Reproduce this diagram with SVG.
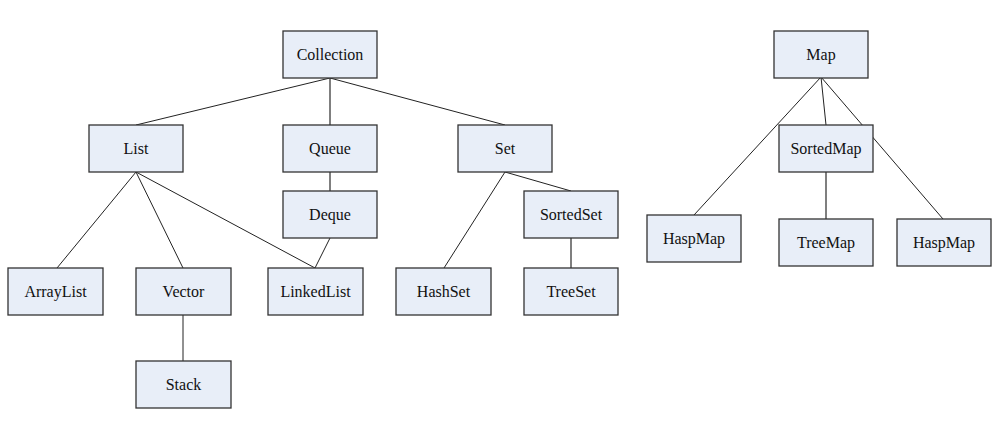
<svg xmlns="http://www.w3.org/2000/svg" width="998" height="442" viewBox="0 0 998 442">
<style>
.n rect{fill:#E8EEF8;stroke:#333;stroke-width:1.3}
.n text{font-family:"Liberation Serif","Times New Roman",serif;font-size:16px;fill:#111;text-anchor:middle}
#edges line{stroke:#222;stroke-width:1}
</style>
<rect width="998" height="442" fill="#fff"/>
<g id="edges">
<line x1="330" y1="78" x2="136" y2="125"/>
<line x1="330" y1="78" x2="330" y2="125" style="stroke:#555;stroke-width:1.5"/>
<line x1="330" y1="78" x2="505" y2="125"/>
<line x1="136" y1="172" x2="57" y2="268"/>
<line x1="136" y1="172" x2="183" y2="268"/>
<line x1="136" y1="172" x2="315" y2="268"/>
<line x1="330" y1="172" x2="330" y2="191" style="stroke:#555;stroke-width:1.5"/>
<line x1="330" y1="238" x2="315" y2="268"/>
<line x1="505" y1="172" x2="444" y2="268"/>
<line x1="505" y1="172" x2="571" y2="191"/>
<line x1="571" y1="238" x2="571" y2="268" style="stroke:#555;stroke-width:1.5"/>
<line x1="183" y1="315" x2="183" y2="361"/>
<line x1="821" y1="77" x2="694" y2="215"/>
<line x1="821" y1="77" x2="826" y2="125"/>
<line x1="821" y1="77" x2="943" y2="219"/>
<line x1="826" y1="172" x2="826" y2="219" style="stroke:#555;stroke-width:1.5"/>
</g>
<g id="collection" class="n"><rect x="283" y="31" width="94" height="47"/><text x="330" y="60">Collection</text></g>
<g id="list" class="n"><rect x="89" y="125" width="94" height="47"/><text x="136" y="154">List</text></g>
<g id="queue" class="n"><rect x="283" y="125" width="94" height="47"/><text x="330" y="154">Queue</text></g>
<g id="set" class="n"><rect x="458" y="125" width="94" height="47"/><text x="505" y="154">Set</text></g>
<g id="deque" class="n"><rect x="283" y="191" width="94" height="47"/><text x="330" y="220">Deque</text></g>
<g id="sortedset" class="n"><rect x="524" y="191" width="94" height="47"/><text x="571" y="220">SortedSet</text></g>
<g id="arraylist" class="n"><rect x="8" y="268" width="95" height="47"/><text x="55.5" y="297">ArrayList</text></g>
<g id="vector" class="n"><rect x="136" y="268" width="95" height="47"/><text x="183.5" y="297">Vector</text></g>
<g id="linkedlist" class="n"><rect x="268" y="268" width="95" height="47"/><text x="315.5" y="297">LinkedList</text></g>
<g id="hashset" class="n"><rect x="396" y="268" width="95" height="47"/><text x="443.5" y="297">HashSet</text></g>
<g id="treeset" class="n"><rect x="524" y="268" width="94" height="47"/><text x="571" y="297">TreeSet</text></g>
<g id="stack" class="n"><rect x="136" y="361" width="95" height="47"/><text x="183.5" y="390">Stack</text></g>
<g id="map" class="n"><rect x="774" y="31" width="94" height="47"/><text x="821" y="60">Map</text></g>
<g id="sortedmap" class="n"><rect x="779" y="125" width="94" height="47"/><text x="826" y="154">SortedMap</text></g>
<g id="haspmap1" class="n"><rect x="647" y="215" width="94" height="47"/><text x="694" y="244">HaspMap</text></g>
<g id="treemap" class="n"><rect x="779" y="219" width="94" height="47"/><text x="826" y="248">TreeMap</text></g>
<g id="haspmap2" class="n"><rect x="897" y="219" width="94" height="47"/><text x="944" y="248">HaspMap</text></g>
</svg>
